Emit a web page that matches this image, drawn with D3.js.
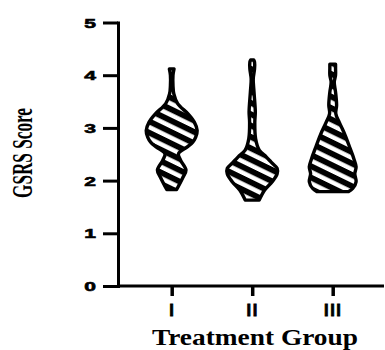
<!DOCTYPE html>
<html>
<head>
<meta charset="utf-8">
<script src="https://cdn.jsdelivr.net/npm/d3@7"></script>
<style>
  html, body { margin: 0; padding: 0; background: #fff; }
  svg { display: block; }
</style>
</head>
<body>
<svg id="chart" width="385" height="350"></svg>
<script>
// Treatment groups on the x axis
const groups = ["I", "II", "III"];
// y axis ticks (GSRS score)
const yTicks = [0, 1, 2, 3, 4, 5];

// Violin outlines: [GSRS score, relative density] from min to max score
const violinI = [
  [1.83, 0.19], [2.05, 0.42], [2.20, 0.55], [2.38, 0.35], [2.51, 0.26],
  [2.64, 0.60], [2.73, 0.81], [2.82, 0.92], [2.95, 0.98], [3.11, 0.87],
  [3.27, 0.62], [3.46, 0.23], [3.65, 0.08], [3.80, 0.05], [4.00, 0.05],
  [4.12, 0.09]
];
const violinII = [
  [1.63, 0.27], [1.82, 0.48], [1.98, 0.77], [2.13, 0.96], [2.23, 0.96],
  [2.35, 0.73], [2.45, 0.54], [2.58, 0.27], [2.80, 0.13], [3.11, 0.10],
  [3.30, 0.12], [3.68, 0.07], [3.93, 0.04], [4.12, 0.09], [4.25, 0.09],
  [4.29, 0.06]
];
const violinIII = [
  [1.79, 0.60], [1.85, 0.77], [1.98, 0.90], [2.13, 0.85], [2.26, 0.90],
  [2.42, 0.81], [2.61, 0.67], [2.86, 0.48], [3.11, 0.25], [3.27, 0.12],
  [3.43, 0.15], [3.68, 0.11], [3.87, 0.06], [4.00, 0.11], [4.13, 0.11],
  [4.21, 0.11]
];
const violins = [violinI, violinII, violinIII];

const svg = d3.select("#chart");

const y = d3.scaleLinear().domain([0, 5]).range([286, 22.5]);
const x = d3.scalePoint().domain(groups).range([171.7, 332.7]);
const halfWidth = d3.scaleLinear().domain([0, 1]).range([0, 26]);
const axisLeftX = 118, axisRightX = 384;

// Diagonal hatch fill
const defs = svg.append("defs");
const pat = defs.append("pattern")
  .attr("id", "hatch")
  .attr("patternUnits", "userSpaceOnUse")
  .attr("width", 40).attr("height", 10.2)
  .attr("patternTransform", "rotate(26)");
pat.append("rect").attr("width", 40).attr("height", 10.2).attr("fill", "#fff");
pat.append("rect").attr("y", 0).attr("width", 40).attr("height", 5.8).attr("fill", "#000");

// Violins
const area = d3.area()
  .curve(d3.curveCatmullRom)
  .y(d => y(d[0]));

svg.append("g").selectAll("path")
  .data(violins)
  .join("path")
  .attr("d", (v, i) => {
    const cx = x(groups[i]);
    return area
      .x0(d => cx - halfWidth(d[1]))
      .x1(d => cx + halfWidth(d[1]))(v);
  })
  .attr("fill", "url(#hatch)")
  .attr("stroke", "#000")
  .attr("stroke-width", 3.4)
  .attr("stroke-linejoin", "round");

// Y axis
const yAxis = svg.append("g")
  .attr("transform", `translate(${axisLeftX},0)`)
  .call(d3.axisLeft(y).tickValues(yTicks).tickFormat(d3.format("d"))
    .tickSize(15).tickSizeOuter(0).tickPadding(7));
yAxis.select(".domain").attr("stroke-width", 3).attr("stroke-linecap", "square");
yAxis.selectAll(".tick line").attr("stroke-width", 3);
yAxis.selectAll(".tick text")
  .attr("font-family", "'Liberation Sans', Arial, sans-serif")
  .attr("font-weight", "bold")
  .attr("font-size", 12.5)
  .attr("fill", "#000")
  .attr("stroke", "#000")
  .attr("stroke-width", 0.6)
  .attr("dy", "0.36em")
  .attr("textLength", 11.7)
  .attr("lengthAdjust", "spacingAndGlyphs");

// X axis baseline
svg.append("line")
  .attr("x1", axisLeftX).attr("x2", axisRightX)
  .attr("y1", y(0)).attr("y2", y(0))
  .attr("stroke", "#000").attr("stroke-width", 3);

const xAxis = svg.append("g")
  .attr("transform", `translate(0,${y(0)})`)
  .call(d3.axisBottom(x).tickSize(10).tickSizeOuter(0));
xAxis.select(".domain").remove();
xAxis.selectAll(".tick line").attr("stroke-width", 3.5);
xAxis.selectAll(".tick text")
  .attr("font-family", "'Liberation Sans', Arial, sans-serif")
  .attr("font-weight", "bold")
  .attr("font-size", 16.5)
  .attr("letter-spacing", 1.5)
  .attr("fill", "#000")
  .attr("stroke", "#000")
  .attr("stroke-width", 0.8)
  .attr("y", 30)
  .attr("dy", 0);

// Axis titles
svg.append("text")
  .attr("x", 255).attr("y", 345)
  .attr("text-anchor", "middle")
  .attr("font-family", "'Liberation Serif', 'Times New Roman', serif")
  .attr("font-weight", "bold")
  .attr("font-size", 23.5)
  .attr("textLength", 206)
  .attr("lengthAdjust", "spacingAndGlyphs")
  .text("Treatment Group");

svg.append("text")
  .attr("transform", "translate(32,153) rotate(-90)")
  .attr("text-anchor", "middle")
  .attr("font-family", "'Liberation Serif', 'Times New Roman', serif")
  .attr("font-weight", "bold")
  .attr("font-size", 30)
  .attr("textLength", 90)
  .attr("lengthAdjust", "spacingAndGlyphs")
  .text("GSRS Score");
</script>
</body>
</html>
